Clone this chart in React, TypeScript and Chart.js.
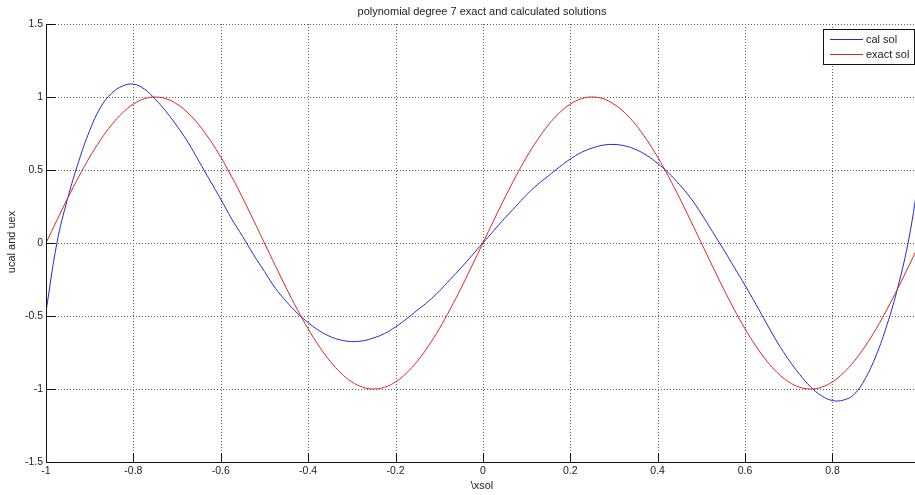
import React, { useEffect, useRef } from "react";
import { Chart, registerables } from "chart.js";

Chart.register(...registerables);

// Sample positions along the x axis
const xsol = [
  -1, -0.975, -0.95, -0.925, -0.9, -0.875, -0.85, -0.825, -0.8, -0.775,
  -0.75, -0.725, -0.7, -0.675, -0.65, -0.625, -0.6, -0.575, -0.55, -0.525,
  -0.5, -0.475, -0.45, -0.425, -0.4, -0.375, -0.35, -0.325, -0.3, -0.275,
  -0.25, -0.225, -0.2, -0.175, -0.15, -0.125, -0.1, -0.075, -0.05, -0.025,
  0, 0.025, 0.05, 0.075, 0.1, 0.125, 0.15, 0.175, 0.2, 0.225,
  0.25, 0.275, 0.3, 0.325, 0.35, 0.375, 0.4, 0.425, 0.45, 0.475,
  0.5, 0.525, 0.55, 0.575, 0.6, 0.625, 0.65, 0.675, 0.7, 0.725,
  0.75, 0.775, 0.8, 0.825, 0.85, 0.875, 0.9, 0.925, 0.95, 0.975, 1,
];

// Degree-7 polynomial (calculated) solution
const calSol = [
  -0.47, 0.0, 0.31, 0.56, 0.77, 0.93, 1.025, 1.075, 1.088, 1.055,
  0.985, 0.9, 0.8, 0.69, 0.56, 0.43, 0.3, 0.165, 0.045, -0.08,
  -0.195, -0.31, -0.4, -0.48, -0.545, -0.6, -0.64, -0.665, -0.675, -0.67,
  -0.65, -0.62, -0.575, -0.52, -0.46, -0.4, -0.33, -0.25, -0.17, -0.085,
  0, 0.085, 0.17, 0.25, 0.33, 0.4, 0.46, 0.52, 0.575, 0.62,
  0.65, 0.67, 0.675, 0.665, 0.64, 0.6, 0.545, 0.48, 0.4, 0.31,
  0.2, 0.08, -0.04, -0.165, -0.29, -0.42, -0.555, -0.685, -0.8, -0.9,
  -0.985, -1.046, -1.079, -1.076, -1.036, -0.93, -0.77, -0.56, -0.3, 0.03, 0.49,
];

// Exact solution
const exactSol = [
  0, 0.156, 0.309, 0.454, 0.588, 0.707, 0.809, 0.891, 0.951, 0.988,
  1, 0.988, 0.951, 0.891, 0.809, 0.707, 0.588, 0.454, 0.309, 0.156,
  0, -0.156, -0.309, -0.454, -0.588, -0.707, -0.809, -0.891, -0.951, -0.988,
  -1, -0.988, -0.951, -0.891, -0.809, -0.707, -0.588, -0.454, -0.309, -0.156,
  0, 0.156, 0.309, 0.454, 0.588, 0.707, 0.809, 0.891, 0.951, 0.988,
  1, 0.988, 0.951, 0.891, 0.809, 0.707, 0.588, 0.454, 0.309, 0.156,
  0, -0.156, -0.309, -0.454, -0.588, -0.707, -0.809, -0.891, -0.951, -0.988,
  -1, -0.988, -0.951, -0.891, -0.809, -0.707, -0.588, -0.454, -0.309, -0.156, 0,
];

const xTicks = [-1, -0.8, -0.6, -0.4, -0.2, 0, 0.2, 0.4, 0.6, 0.8];
const yTicks = [-1.5, -1, -0.5, 0, 0.5, 1, 1.5];

const seriesNames = ["cal sol", "exact sol"];
const seriesColors = ["#2626d8", "#dc2424"];

const titleText = "polynomial degree 7 exact and calculated solutions";
const xLabel = "\\xsol";
const yLabel = "ucal and uex";

const FONT = "'Liberation Sans', Arial, Helvetica, sans-serif";
const TEXT = "#222";
const TICK_LEN = 9;

const axesPlugin = {
  id: "matlabAxes",
  beforeDatasetsDraw(chart: any) {
    const { ctx, chartArea: a, scales } = chart;
    const xs = scales.x;
    const ys = scales.y;
    ctx.save();
    ctx.strokeStyle = "#5e5e5e";
    ctx.lineWidth = 1;
    ctx.setLineDash([1, 2]);
    xTicks.forEach((v) => {
      if (v === xTicks[0]) return;
      const px = Math.round(xs.getPixelForValue(v)) + 0.5;
      ctx.beginPath();
      ctx.moveTo(px, a.top);
      ctx.lineTo(px, a.bottom);
      ctx.stroke();
    });
    yTicks.forEach((v) => {
      if (v === yTicks[0]) return;
      const py = Math.round(ys.getPixelForValue(v)) + 0.5;
      ctx.beginPath();
      ctx.moveTo(a.left, py);
      ctx.lineTo(a.right, py);
      ctx.stroke();
    });
    ctx.restore();
  },
  afterDatasetsDraw(chart: any) {
    const { ctx, chartArea: a, scales } = chart;
    const xs = scales.x;
    const ys = scales.y;
    ctx.save();
    ctx.setLineDash([]);
    ctx.strokeStyle = "#111";
    ctx.lineWidth = 1;
    const left = Math.round(a.left) + 0.5;
    const bottom = Math.round(a.bottom) + 0.5;
    // axis lines
    ctx.beginPath();
    ctx.moveTo(left, Math.round(a.top));
    ctx.lineTo(left, bottom);
    ctx.lineTo(a.right, bottom);
    ctx.stroke();
    // inward tick marks
    xTicks.forEach((v) => {
      const px = Math.round(xs.getPixelForValue(v)) + 0.5;
      ctx.beginPath();
      ctx.moveTo(px, bottom);
      ctx.lineTo(px, bottom - TICK_LEN);
      ctx.stroke();
    });
    yTicks.forEach((v) => {
      const py = Math.round(ys.getPixelForValue(v)) + 0.5;
      ctx.beginPath();
      ctx.moveTo(left, py);
      ctx.lineTo(left + TICK_LEN, py);
      ctx.stroke();
    });

    // legend box
    const lx = 823.5, ly = 29.5, lw = 91, lh = 35;
    ctx.fillStyle = "#fff";
    ctx.fillRect(lx, ly, lw, lh);
    ctx.strokeStyle = "#111";
    ctx.strokeRect(lx, ly, lw, lh);
    ctx.font = `11px ${FONT}`;
    ctx.textBaseline = "middle";
    ctx.textAlign = "left";
    seriesNames.forEach((name, i) => {
      const yy = 39 + i * 15;
      ctx.fillStyle = seriesColors[i];
      ctx.fillRect(830, yy, 33, 1);
      ctx.fillStyle = TEXT;
      ctx.fillText(name, 866, yy + 1);
    });

    // title and axis labels
    ctx.fillStyle = TEXT;
    ctx.textAlign = "center";
    ctx.textBaseline = "middle";
    ctx.fillText(titleText, 482, 12);
    ctx.fillText(xLabel, 482, 486);
    ctx.translate(12, 242);
    ctx.rotate(-Math.PI / 2);
    ctx.fillText(yLabel, 0, 0);
    ctx.restore();
  },
};

export default function App() {
  const canvasRef = useRef<HTMLCanvasElement | null>(null);

  useEffect(() => {
    const canvas = canvasRef.current;
    if (!canvas) return;
    const chart = new Chart(canvas, {
      type: "line",
      data: {
        datasets: [
          {
            label: seriesNames[0],
            data: xsol.map((x, i) => ({ x, y: calSol[i] })),
            borderColor: seriesColors[0],
            borderWidth: 1,
            pointRadius: 0,
            tension: 0.4,
            order: 1,
          },
          {
            label: seriesNames[1],
            data: xsol.map((x, i) => ({ x, y: exactSol[i] })),
            borderColor: seriesColors[1],
            borderWidth: 1,
            pointRadius: 0,
            tension: 0.4,
            order: 0,
          },
        ],
      },
      options: {
        responsive: false,
        animation: false,
        layout: { padding: { top: 24, left: 0, right: 0, bottom: 0 } },
        plugins: {
          legend: { display: false },
          title: { display: false },
          tooltip: { enabled: false },
        },
        scales: {
          x: {
            type: "linear",
            min: -1,
            max: 0.989,
            grid: { display: false, drawTicks: false },
            border: { display: false },
            afterFit: (s: any) => {
              s.height = 33;
            },
            afterBuildTicks: (s: any) => {
              s.ticks = xTicks.map((v) => ({ value: v }));
            },
            ticks: {
              autoSkip: false,
              maxRotation: 0,
              padding: 3,
              color: TEXT,
              font: { size: 10.5, family: FONT },
              callback: (v: any) => String(Number(v)),
            },
          },
          y: {
            type: "linear",
            min: -1.5,
            max: 1.5,
            grid: { display: false, drawTicks: false },
            border: { display: false },
            afterFit: (s: any) => {
              s.width = 46;
            },
            afterBuildTicks: (s: any) => {
              s.ticks = yTicks.map((v) => ({ value: v }));
            },
            ticks: {
              padding: 3,
              color: TEXT,
              font: { size: 10.5, family: FONT },
              callback: (v: any) => String(Number(v)),
            },
          },
        },
      },
      plugins: [axesPlugin],
    });
    return () => chart.destroy();
  }, []);

  return (
    <div style={{ position: "absolute", left: 0, top: 0, width: 915, height: 495, background: "#fff" }}>
      <canvas ref={canvasRef} width={915} height={495} style={{ display: "block" }} />
    </div>
  );
}
